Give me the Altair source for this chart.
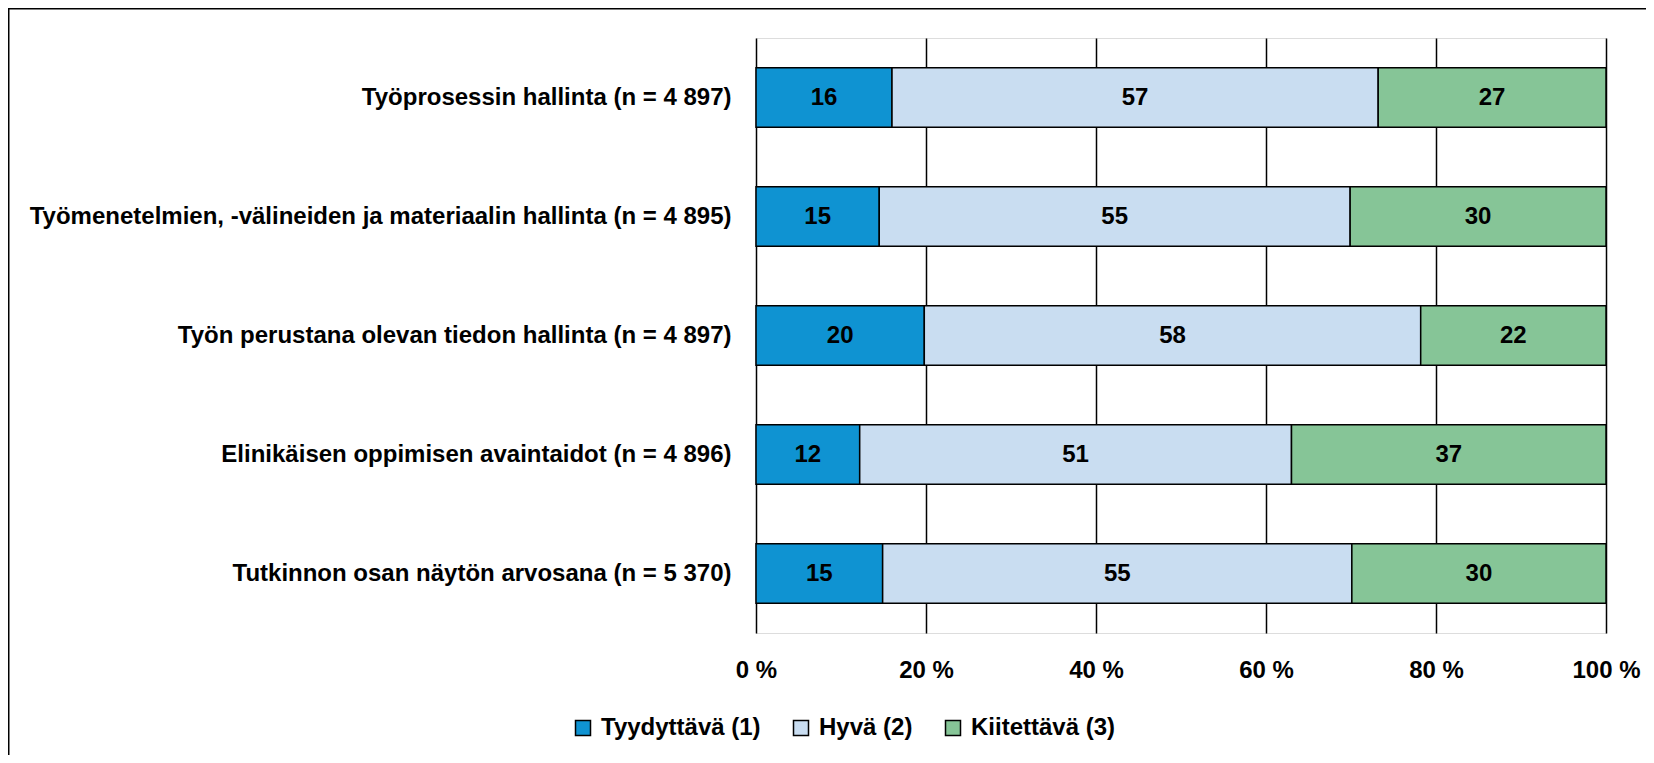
import altair as alt
import pandas as pd

items = [
    "Työprosessin hallinta (n = 4 897)",
    "Työmenetelmien, -välineiden ja materiaalin hallinta (n = 4 895)",
    "Työn perustana olevan tiedon hallinta (n = 4 897)",
    "Elinikäisen oppimisen avaintaidot (n = 4 896)",
    "Tutkinnon osan näytön arvosana (n = 5 370)",
]
categories = ["Tyydyttävä (1)", "Hyvä (2)", "Kiitettävä (3)"]
tyydyttava = [16.0, 14.5, 19.8, 12.2, 14.9]
hyva = [57.2, 55.4, 58.4, 50.8, 55.2]
kiitettava = [26.8, 30.1, 21.8, 37.0, 29.9]
lab_tyydyttava = [16, 15, 20, 12, 15]
lab_hyva = [57, 55, 58, 51, 55]
lab_kiitettava = [27, 30, 22, 37, 30]
x_ticks = [0, 20, 40, 60, 80, 100]
colors = ["#0F93D2", "#C9DDF1", "#86C597"]

rows = []
for i, it in enumerate(items):
    for k, (vals, labs) in enumerate(zip([tyydyttava, hyva, kiitettava],
                                         [lab_tyydyttava, lab_hyva, lab_kiitettava])):
        rows.append({"item": it, "cat": categories[k], "order": k,
                     "value": vals[i], "label": str(labs[i])})
df = pd.DataFrame(rows)

FONT = "Liberation Sans, Arial, sans-serif"
FS = 24

base = alt.Chart(df).transform_stack(
    stack="value", as_=["x0", "x1"], groupby=["item"],
    sort=[alt.SortField("order", order="ascending")]
).transform_calculate(mid="(datum.x0 + datum.x1) / 2")

yenc = alt.Y("item:N", sort=items, title=None,
             scale=alt.Scale(paddingInner=0.5, paddingOuter=0.25),
             axis=alt.Axis(labelFontSize=FS, labelFont=FONT, labelFontWeight="bold",
                           labelColor="black", labelPadding=25, ticks=False,
                           domain=False, labelLimit=900))

bars = base.mark_bar(stroke="black", strokeWidth=1.5).encode(
    x=alt.X("x0:Q", title=None,
            scale=alt.Scale(domain=[0, 100], nice=False),
            axis=alt.Axis(values=x_ticks, labelExpr="datum.value + ' %'",
                          labelFontSize=FS, labelFont=FONT, labelFontWeight="bold",
                          labelColor="black", labelPadding=25, ticks=False,
                          labelFlush=False, labelOverlap=False,
                          domain=False, grid=True, gridColor="black", gridWidth=1.5,
                          gridOpacity=1)),
    x2="x1:Q",
    y=yenc,
    color=alt.Color("cat:N", scale=alt.Scale(domain=categories, range=colors),
                    legend=alt.Legend(title=None, orient="none", direction="horizontal",
                                      legendX=-185, legendY=678,
                                      symbolType="square", symbolSize=225,
                                      symbolStrokeColor="black", symbolStrokeWidth=1.5,
                                      labelFontSize=FS, labelFont=FONT,
                                      labelFontWeight="bold", labelColor="black",
                                      labelOffset=6, columnPadding=28)),
)

texts = base.mark_text(fontSize=FS, font=FONT, fontWeight="bold", color="black").encode(
    x=alt.X("mid:Q"),
    y=alt.Y("item:N", sort=items),
    text="label:N",
)

frame = alt.Chart(pd.DataFrame({"a": [0]})).mark_rect(
    fill=None, stroke="black", strokeWidth=2
).encode(x=alt.value(-747.5), x2=alt.value(1400), y=alt.value(-29.5), y2=alt.value(1200))

chart = alt.layer(bars, texts, frame).properties(
    width=850, height=595,
    padding={"left": 748, "top": 30, "right": 40, "bottom": 122},
    autosize=alt.AutoSizeParams(type="none"),
).configure_view(stroke="black", strokeWidth=1.5).configure(background="white")

chart.save("out.html", embed_options={"renderer": "svg", "actions": False})
